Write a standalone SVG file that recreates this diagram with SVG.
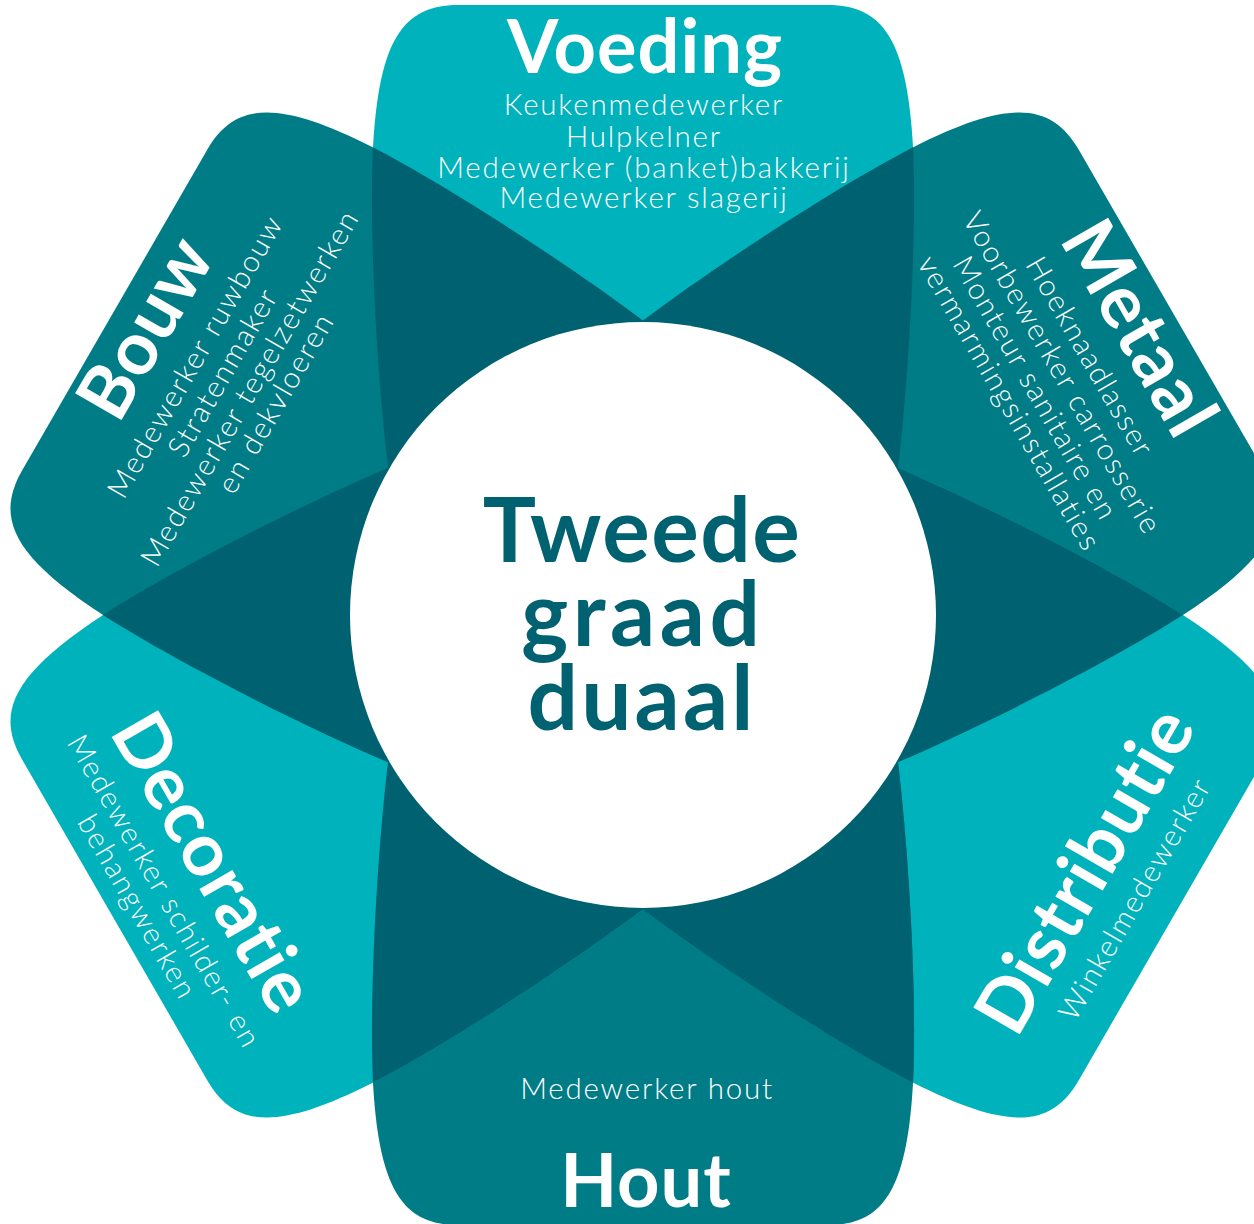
<svg xmlns="http://www.w3.org/2000/svg" xmlns:xlink="http://www.w3.org/1999/xlink" width="1254" height="1224" viewBox="0 0 1254 1224">
<style>
.light{fill:#00B2BB}
.mid{fill:#007C86}
.dark{fill:#006270}
.t{font-family:Lato,"Noto Sans",sans-serif;font-weight:700;font-size:74px;fill:#fff;text-anchor:middle;letter-spacing:1px}
.s{font-family:Lato,"Noto Sans",sans-serif;font-weight:300;font-size:29.5px;fill:#fff;text-anchor:middle;letter-spacing:1.8px}
.c{font-family:Lato,"Noto Sans",sans-serif;font-weight:700;font-size:89px;fill:#006270;text-anchor:middle}
</style>
<defs>
<path id="petal" d="M0,0 L255,-147 C266,-240 274,-380 270,-468 C264,-575 240,-610 185,-610 L-185,-610 C-240,-610 -264,-575 -270,-468 C-274,-380 -266,-240 -255,-147 Z"/>
<clipPath id="cp0"><use href="#petal" transform="translate(643 615)"/></clipPath>
<clipPath id="cp60"><use href="#petal" transform="translate(643 615) rotate(60)"/></clipPath>
<clipPath id="cp120"><use href="#petal" transform="translate(643 615) rotate(120)"/></clipPath>
<clipPath id="cp180"><use href="#petal" transform="translate(643 615) rotate(180)"/></clipPath>
<clipPath id="cp240"><use href="#petal" transform="translate(643 615) rotate(240)"/></clipPath>
<clipPath id="cp300"><use href="#petal" transform="translate(643 615) rotate(300)"/></clipPath>
</defs>
<rect width="1254" height="1224" fill="#fff"/>
<g id="petal-shapes">
<use id="petal-voeding" href="#petal" class="light" transform="translate(643 615)"/>
<use id="petal-metaal" href="#petal" class="mid" transform="translate(643 615) rotate(60)"/>
<use id="petal-distributie" href="#petal" class="light" transform="translate(643 615) rotate(120)"/>
<use id="petal-hout" href="#petal" class="mid" transform="translate(643 615) rotate(180)"/>
<use id="petal-decoratie" href="#petal" class="light" transform="translate(643 615) rotate(240)"/>
<use id="petal-bouw" href="#petal" class="mid" transform="translate(643 615) rotate(300)"/>
</g>
<g id="overlaps">
<g clip-path="url(#cp0)"><use href="#petal" class="dark" transform="translate(643 615) rotate(60)"/></g>
<g clip-path="url(#cp60)"><use href="#petal" class="dark" transform="translate(643 615) rotate(120)"/></g>
<g clip-path="url(#cp120)"><use href="#petal" class="dark" transform="translate(643 615) rotate(180)"/></g>
<g clip-path="url(#cp180)"><use href="#petal" class="dark" transform="translate(643 615) rotate(240)"/></g>
<g clip-path="url(#cp240)"><use href="#petal" class="dark" transform="translate(643 615) rotate(300)"/></g>
<g clip-path="url(#cp300)"><use href="#petal" class="dark" transform="translate(643 615)"/></g>
</g>
<g id="center">
<circle cx="643" cy="615" r="293" fill="#fff"/>
<text class="c" x="642" y="562" letter-spacing="1.5">Tweede</text>
<text class="c" x="643" y="646" letter-spacing="4.6">graad</text>
<text class="c" x="642" y="730" letter-spacing="3.2">duaal</text>
</g>
<g id="voeding">
<text class="t" x="645" y="73" letter-spacing="2.8">Voeding</text>
<text class="s" x="644" y="115">Keukenmedewerker</text>
<text class="s" x="644" y="147">Hulpkelner</text>
<text class="s" x="644" y="178">Medewerker (banket)bakkerij</text>
<text class="s" x="644" y="208">Medewerker slagerij</text>
</g>
<g id="metaal" transform="rotate(60 643 615)">
<text class="t" x="643" y="67">Metaal</text>
<text class="s" x="643" y="109">Hoeknaadlasser</text>
<text class="s" x="643" y="141">Voorbewerker carrosserie</text>
<text class="s" x="643" y="172">Monteur sanitaire en</text>
<text class="s" x="643" y="202">vermarmingsinstallaties</text>
</g>
<g id="bouw" transform="rotate(-60 643 615)">
<text class="t" x="643" y="66">Bouw</text>
<text class="s" x="643" y="108">Medewerker ruwbouw</text>
<text class="s" x="643" y="140">Stratenmaker</text>
<text class="s" x="643" y="171">Medewerker tegelzetwerken</text>
<text class="s" x="643" y="201">en dekvloeren</text>
</g>
<g id="decoratie" transform="rotate(60 643 615)">
<text class="t" x="643" y="1136">Decoratie</text>
<text class="s" x="643" y="1178">Medewerker schilder- en</text>
<text class="s" x="643" y="1209">behangwerken</text>
</g>
<g id="distributie" transform="rotate(-60 643 615)">
<text class="t" x="643" y="1151">Distributie</text>
<text class="s" x="643" y="1193">Winkelmedewerker</text>
</g>
<g id="hout">
<text class="s" x="647" y="1099">Medewerker hout</text>
<text class="t" x="646" y="1207" letter-spacing="0">Hout</text>
</g>
</svg>
